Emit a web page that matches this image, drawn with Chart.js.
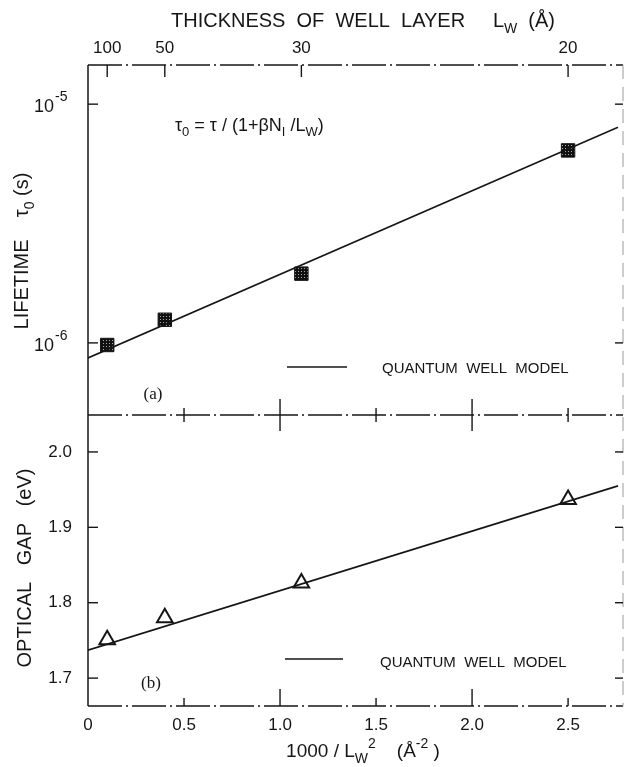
<!DOCTYPE html>
<html>
<head>
<meta charset="utf-8">
<script src="https://cdn.jsdelivr.net/npm/chart.js@4.4.1/dist/chart.umd.min.js"></script>
<style>
  html, body { margin: 0; padding: 0; background: #fff; }
  #wrap { width: 625px; height: 767px; }
</style>
</head>
<body>
<div id="wrap"><canvas id="chart" width="625" height="767"></canvas></div>
<script>
// well layer thickness Lw (A) of the samples -> top axis
const thickness = [100, 50, 30, 20];
const invSq = thickness.map(L => 1000 / (L * L));   // 1000 / Lw^2

// (a) lifetime tau0 (s), filled squares
const lifetime = [0.98e-6, 1.25e-6, 1.95e-6, 6.4e-6];
// quantum well model line, end points
const modelX = [0, 2.76];
const modelLifetime = [8.65e-7, 8.0e-6];

// (b) optical gap (eV), open triangles
const gap = [1.751, 1.780, 1.826, 1.937];
const modelGap = [1.737, 1.955];

// tick values
const xTicks = [0, 0.5, 1.0, 1.5, 2.0, 2.5];
const lifetimeTicks = [1e-5, 1e-6];
const gapTicks = [1.7, 1.8, 1.9, 2.0];

const INK = '#161616';
const FONT = '"Liberation Sans", Arial, sans-serif';
const SERIF = '"Liberation Serif", "Times New Roman", serif';

Chart.defaults.font.family = FONT;
Chart.defaults.color = INK;

const canvas = document.getElementById('chart');
const ctx = canvas.getContext('2d');

// dotted dark fill of the square markers
const pc = document.createElement('canvas');
pc.width = pc.height = 3;
const pctx = pc.getContext('2d');
pctx.fillStyle = '#111';
pctx.fillRect(0, 0, 3, 3);
pctx.fillStyle = '#aaa';
pctx.fillRect(1, 1, 1, 1);
const squareFill = ctx.createPattern(pc, 'repeat');

const pts = (xs, ys) => xs.map((x, i) => ({ x: x, y: ys[i] }));

function line(c, x1, y1, x2, y2) {
  c.beginPath();
  c.moveTo(x1, y1);
  c.lineTo(x2, y2);
  c.stroke();
}

// text with sub/superscripts: parts = [[text, 'sub'|'sup'|undefined], ...]
function rich(c, parts, x, y, size, align, family) {
  family = family || FONT;
  const segs = parts.map(p => {
    const s = p[1] ? Math.round(size * 0.72) : size;
    c.font = s + 'px ' + family;
    return { t: p[0], kind: p[1], s: s, w: c.measureText(p[0]).width };
  });
  const total = segs.reduce((a, s) => a + s.w, 0);
  let cx = align === 'center' ? x - total / 2 : align === 'right' ? x - total : x;
  c.textAlign = 'left';
  c.textBaseline = 'alphabetic';
  segs.forEach(sg => {
    c.font = sg.s + 'px ' + family;
    const dy = sg.kind === 'sub' ? size * 0.3 : sg.kind === 'sup' ? -size * 0.45 : 0;
    c.fillText(sg.t, cx, y + dy);
    cx += sg.w;
  });
}

// keep the plot frame where the axis boxes put it
const noPad = s => { s.paddingLeft = 0; s.paddingRight = 0; s.paddingTop = 0; s.paddingBottom = 0; };

const framePlugin = {
  id: 'frame',
  beforeDatasetsDraw(chart) {
    const { ctx: c, chartArea: a, scales } = chart;
    const { x, xTop, yTop, yBot } = scales;
    const mid = yTop.bottom;
    c.save();
    c.strokeStyle = INK;
    c.lineWidth = 1.5;
    line(c, a.left, a.top, a.left, a.bottom);
    c.setLineDash([34, 4, 2, 4]);
    line(c, a.left, a.top, a.right, a.top);
    line(c, a.left, mid, a.right, mid);
    line(c, a.left, a.bottom, a.right, a.bottom);
    c.lineWidth = 1;
    c.strokeStyle = '#9a9a9a';
    c.setLineDash([14, 8]);
    line(c, a.right, a.top, a.right, a.bottom);
    c.setLineDash([]);
    c.strokeStyle = INK;
    c.lineWidth = 1.4;
    // top axis ticks (thickness)
    xTop.ticks.forEach(t => {
      const px = xTop.getPixelForValue(t.value);
      line(c, px, a.top, px, a.top + 12);
    });
    // bottom axis ticks and crosses on the divider
    x.ticks.forEach(t => {
      if (t.value === 0) return;
      const px = x.getPixelForValue(t.value);
      const major = Number.isInteger(t.value);
      line(c, px, a.bottom, px, a.bottom - (major ? 17 : 8));
      const half = major ? 16 : 7;
      line(c, px, mid - half, px, mid + half);
    });
    // y ticks, inward on both sides
    [yTop, yBot].forEach(s => s.ticks.forEach(t => {
      const py = s.getPixelForValue(t.value);
      line(c, a.left, py, a.left + 10, py);
      line(c, a.right, py, a.right - 8, py);
    }));
    c.restore();
  },
  afterDraw(chart) {
    const { ctx: c, scales } = chart;
    const { yTop } = scales;
    c.save();
    c.fillStyle = INK;
    c.strokeStyle = INK;

    // top axis title
    rich(c, [['THICKNESS  OF  WELL  LAYER     L'], ['W', 'sub'], ['  (Å)']], 363, 27, 20, 'center');
    // bottom axis title
    rich(c, [['1000 / L'], ['W', 'sub'], ['2', 'sup'], ['    (Å'], ['-2', 'sup'], [' )']], 363, 757, 19, 'center');

    // y axis titles (rotated)
    c.save();
    c.translate(28, 251);
    c.rotate(-Math.PI / 2);
    rich(c, [['LIFETIME    τ'], ['0', 'sub'], [' (s)']], 0, 0, 20, 'center');
    c.restore();
    c.save();
    c.translate(31, 568);
    c.rotate(-Math.PI / 2);
    rich(c, [['OPTICAL   GAP   (eV)']], 0, 0, 20, 'center');
    c.restore();

    // log tick labels 10^-5, 10^-6
    lifetimeTicks.forEach(v => {
      const py = yTop.getPixelForValue(v);
      const e = Math.round(Math.log10(v));
      c.font = '18px ' + FONT;
      c.textAlign = 'right';
      c.textBaseline = 'alphabetic';
      c.fillText('10', 54, py + 8);
      c.font = '14px ' + FONT;
      c.textAlign = 'left';
      c.fillText('-' + Math.abs(e), 55, py - 3);
    });

    // model formula
    rich(c, [['τ'], ['0', 'sub'], [' = τ / (1+βN'], ['I', 'sub'], [' /L'], ['W', 'sub'], [')']], 175, 131, 18, 'left');

    // legends
    c.lineWidth = 1.5;
    line(c, 287, 367, 347, 367);
    line(c, 285, 659, 343, 659);
    c.font = '15px ' + FONT;
    c.textAlign = 'left';
    c.textBaseline = 'alphabetic';
    c.fillText('QUANTUM  WELL  MODEL', 382, 373);
    c.fillText('QUANTUM  WELL  MODEL', 380, 667);

    // panel labels
    c.font = '17px ' + SERIF;
    c.textAlign = 'center';
    c.fillText('(a)', 153, 399);
    c.fillText('(b)', 151, 688);
    c.restore();
  }
};

new Chart(ctx, {
  type: 'scatter',
  data: {
    datasets: [
      {
        label: 'QUANTUM WELL MODEL',
        data: pts(modelX, modelLifetime),
        yAxisID: 'yTop',
        showLine: true,
        borderColor: INK,
        borderWidth: 1.6,
        pointRadius: 0
      },
      {
        label: 'lifetime',
        data: pts(invSq, lifetime),
        yAxisID: 'yTop',
        pointStyle: 'rect',
        pointRadius: 9.5,
        backgroundColor: squareFill,
        borderColor: INK,
        borderWidth: 1
      },
      {
        label: 'QUANTUM WELL MODEL',
        data: pts(modelX, modelGap),
        yAxisID: 'yBot',
        showLine: true,
        borderColor: INK,
        borderWidth: 1.6,
        pointRadius: 0
      },
      {
        label: 'optical gap',
        data: pts(invSq, gap),
        yAxisID: 'yBot',
        pointStyle: 'triangle',
        pointRadius: 9,
        backgroundColor: '#fff',
        borderColor: INK,
        borderWidth: 2
      }
    ]
  },
  options: {
    responsive: false,
    animation: false,
    devicePixelRatio: 1,
    layout: { autoPadding: false, padding: { left: 0, right: 2, top: 0, bottom: 0 } },
    plugins: { legend: { display: false }, tooltip: { enabled: false } },
    scales: {
      x: {
        type: 'linear',
        position: 'bottom',
        min: 0,
        max: 2.786,
        afterBuildTicks: s => { s.ticks = xTicks.map(v => ({ value: v })); },
        afterFit: s => { s.height = 61; noPad(s); },
        grid: { display: false, drawTicks: false },
        border: { display: false },
        ticks: {
          autoSkip: false,
          maxRotation: 0,
          padding: 9,
          font: { size: 17 },
          callback: v => (v === 0 ? '0' : v.toFixed(1))
        }
      },
      xTop: {
        type: 'linear',
        position: 'top',
        min: 0,
        max: 2.786,
        afterBuildTicks: s => { s.ticks = invSq.map(v => ({ value: v })); },
        afterFit: s => { s.height = 65; noPad(s); },
        grid: { display: false, drawTicks: false },
        border: { display: false },
        ticks: {
          autoSkip: false,
          maxRotation: 0,
          padding: 6,
          font: { size: 17 },
          callback: (v, i) => String(thickness[i])
        }
      },
      yBot: {
        type: 'linear',
        position: 'left',
        stack: 'panels',
        stackWeight: 291,
        weight: 1,
        min: 1.663,
        max: 2.049,
        afterBuildTicks: s => { s.ticks = gapTicks.map(v => ({ value: v })); },
        afterFit: s => { s.width = 88; noPad(s); },
        grid: { display: false, drawTicks: false },
        border: { display: false },
        ticks: {
          padding: 16,
          font: { size: 17 },
          callback: v => v.toFixed(1)
        }
      },
      yTop: {
        type: 'logarithmic',
        position: 'left',
        stack: 'panels',
        stackWeight: 350,
        weight: 2,
        min: Math.pow(10, -6.302),
        max: Math.pow(10, -4.836),
        afterBuildTicks: s => { s.ticks = lifetimeTicks.map(v => ({ value: v })); },
        afterFit: s => { s.width = 88; noPad(s); },
        grid: { display: false, drawTicks: false },
        border: { display: false },
        ticks: { display: false }
      }
    }
  },
  plugins: [framePlugin]
});
</script>
</body>
</html>
